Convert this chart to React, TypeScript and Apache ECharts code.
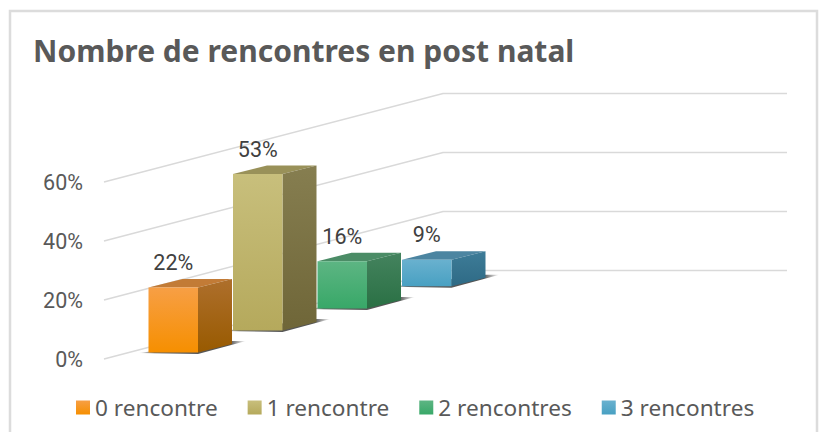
import React, { useEffect, useRef } from "react";
import * as echarts from "echarts";

const categories = ["0 rencontre", "1 rencontre", "2 rencontres", "3 rencontres"];
const percentages = [22, 53, 16, 9];
const yTicks = [0, 20, 40, 60];

type Shade = { frontTop: string; frontBottom: string; sideTop: string; sideBottom: string; top: string };
const shades: Shade[] = [
  { frontTop: "#F79F45", frontBottom: "#F68F00", sideTop: "#AE6F2C", sideBottom: "#985A00", top: "#C27B36" },
  { frontTop: "#C8BF7C", frontBottom: "#B5A95C", sideTop: "#867E50", sideBottom: "#6F6638", top: "#999159" },
  { frontTop: "#5DB583", frontBottom: "#38A868", sideTop: "#44835E", sideBottom: "#2A7044", top: "#4B8C66" },
  { frontTop: "#69B1CF", frontBottom: "#48A0C2", sideTop: "#3E7C98", sideBottom: "#2E6A85", top: "#4C85A1" },
];

const FONT = "'Noto Sans', sans-serif";
const VALUE_FONT = "Roboto, sans-serif";
const GRID_LEFT = 131;
const BAND = 84.5;
const BAR_W = 49.5;
const DEPTH_X = 34;
const DEPTH_Y = 8.5;
const SLOPE = 88.5 / 339;
const WALL_X = 104;
const WALL_CORNER_X = 443;
const WALL_RIGHT_X = 787;

const vGrad = (a: string, b: string) => ({
  type: "linear",
  x: 0,
  y: 0,
  x2: 0,
  y2: 1,
  colorStops: [
    { offset: 0, color: a },
    { offset: 1, color: b },
  ],
});

const renderBar = (colorIndex: number) => (_p: any, api: any) => {
  const base = api.coord([api.value(0), 0]);
  const top = api.coord([api.value(0), api.value(1)]);
  const s = shades[colorIndex];
  const cx = base[0];
  const lift = (cx - GRID_LEFT - BAND / 2) * SLOPE + 6.5;
  const x0 = cx - BAR_W / 2;
  const x1 = cx + BAR_W / 2;
  const yb = base[1] - lift;
  const yt = top[1] - lift;
  return {
    type: "group",
    children: [
      {
        type: "polygon",
        shape: {
          points: [
            [x0 - 10, yb + 0.5],
            [x1, yb + 1.5],
            [x1 + DEPTH_X + 14, yb - DEPTH_Y - 3],
            [x1 + DEPTH_X, yb - DEPTH_Y - 3],
          ],
        },
        style: {
          fill: {
            type: "linear",
            x: 0,
            y: 0,
            x2: 1,
            y2: 0,
            colorStops: [
              { offset: 0, color: "rgba(70,70,70,0)" },
              { offset: 0.15, color: "rgba(70,70,70,0.85)" },
              { offset: 0.85, color: "rgba(50,50,50,0.85)" },
              { offset: 1, color: "rgba(70,70,70,0)" },
            ],
          },
        },
      },
      {
        type: "polygon",
        shape: { points: [[x0, yt], [x1, yt], [x1 + DEPTH_X, yt - DEPTH_Y], [x0 + DEPTH_X, yt - DEPTH_Y]] },
        style: { fill: s.top },
      },
      {
        type: "polygon",
        shape: { points: [[x1, yt], [x1 + DEPTH_X, yt - DEPTH_Y], [x1 + DEPTH_X, yb - DEPTH_Y], [x1, yb]] },
        style: { fill: vGrad(s.sideTop, s.sideBottom) },
      },
      {
        type: "rect",
        shape: { x: x0, y: yt, width: BAR_W, height: yb - yt },
        style: { fill: vGrad(s.frontTop, s.frontBottom) },
      },
      {
        type: "text",
        x: cx,
        y: yt - 25,
        style: {
          text: `${api.value(1)}%`,
          fill: "#404040",
          font: `21.5px ${VALUE_FONT}`,
          align: "center",
          verticalAlign: "middle",
        },
      },
    ],
  };
};

const renderWall = (_p: any, api: any) => {
  const y = api.coord([0, api.value(0)])[1];
  const dx = WALL_CORNER_X - WALL_X;
  const yBack = y - dx * SLOPE;
  return {
    type: "polyline",
    shape: { points: [[WALL_X, y], [WALL_CORNER_X, yBack], [WALL_RIGHT_X, yBack]] },
    style: { stroke: "#d9d9d9", lineWidth: 1.5, fill: "none" },
  };
};

export default function App() {
  const ref = useRef<HTMLDivElement>(null);
  useEffect(() => {
    document.body.style.margin = "0";
    document.body.style.background = "#ffffff";
    const chart = echarts.init(ref.current!, undefined, { renderer: "svg" });
    chart.setOption({
      animation: false,
      backgroundColor: "#ffffff",
      title: {
        text: "Nombre de rencontres en post natal",
        left: 33,
        top: 35,
        padding: 0,
        textStyle: { color: "#595959", fontFamily: FONT, fontWeight: "bold", fontSize: 30 },
      },
      graphic: [
        {
          type: "rect",
          silent: true,
          z: -1,
          shape: { x: 10, y: 11, width: 807, height: 430 },
          style: { fill: "none", stroke: "#dcdcdc", lineWidth: 2.5 },
        },
      ],
      legend: {
        show: true,
        left: 76,
        top: 396,
        padding: 0,
        itemWidth: 14,
        itemHeight: 14,
        itemGap: 30,
        icon: "rect",
        textStyle: { color: "#595959", fontFamily: FONT, fontSize: 22.6, padding: 0 },
        data: categories.map((name, i) => ({
          name,
          itemStyle: { color: vGrad(shades[i].frontTop, shades[i].frontBottom) },
        })),
      },
      grid: { left: GRID_LEFT, width: BAND * 4, top: 182, height: 177, containLabel: false },
      xAxis: { type: "category", data: categories, show: false },
      yAxis: {
        type: "value",
        min: 0,
        max: 60,
        interval: 20,
        axisLine: { show: false },
        axisTick: { show: false },
        splitLine: { show: false },
        axisLabel: {
          margin: 48,
          color: "#595959",
          fontFamily: VALUE_FONT,
          fontSize: 21.5,
          formatter: "{value}%",
        },
      },
      series: [
        {
          type: "custom",
          name: "wall",
          z: 1,
          silent: true,
          clip: false,
          encode: { y: 0 },
          data: yTicks.map((t) => [t]),
          renderItem: renderWall,
        },
        ...categories.map((name, i) => ({
          type: "custom",
          name,
          z: 10 - i,
          clip: false,
          encode: { x: 0, y: 1 },
          itemStyle: { color: shades[i].frontBottom },
          data: [[name, percentages[i]]],
          renderItem: renderBar(i),
        })),
      ],
    });
    return () => chart.dispose();
  }, []);
  return <div ref={ref} style={{ width: 827, height: 432 }} />;
}
